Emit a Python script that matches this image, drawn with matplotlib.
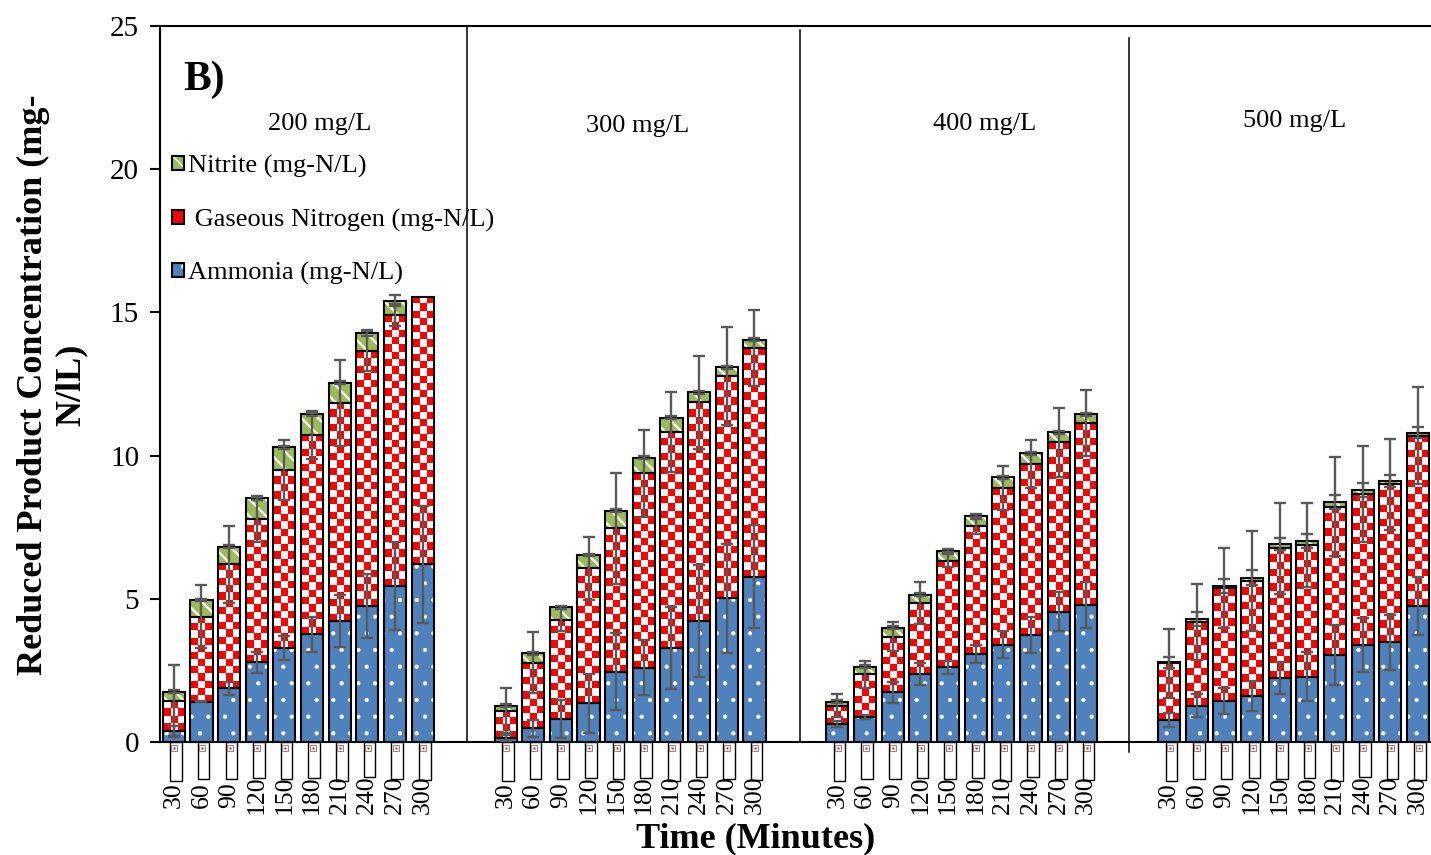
import numpy as np
import matplotlib.pyplot as plt
from matplotlib.patches import Patch
from matplotlib.colors import ListedColormap

plt.rcParams['font.family'] = ['Liberation Serif', 'DejaVu Serif']

# concentrations (mg/L) and sampling times (min)
groups = ['200 mg/L', '300 mg/L', '400 mg/L', '500 mg/L']
times = [30, 60, 90, 120, 150, 180, 210, 240, 270, 300]

# stacked components, one row per initial concentration
ammonia = [
    [0.38, 1.41, 1.87, 2.78, 3.27, 3.76, 4.22, 4.75, 5.45, 6.20],
    [0.13, 0.48, 0.80, 1.35, 2.46, 2.60, 3.27, 4.22, 5.02, 5.77],
    [0.62, 0.88, 1.73, 2.37, 2.61, 3.07, 3.39, 3.74, 4.55, 4.78],
    [0.77, 1.27, 1.44, 1.61, 2.22, 2.28, 3.04, 3.39, 3.48, 4.75],
]
gaseous = [
    [1.05, 2.97, 4.33, 5.01, 6.23, 6.96, 7.63, 8.90, 9.46, 9.33],
    [0.96, 2.29, 3.46, 4.71, 5.00, 6.78, 7.56, 7.64, 7.76, 7.98],
    [0.64, 1.49, 1.95, 2.47, 3.72, 4.47, 5.47, 5.97, 5.91, 6.35],
    [1.98, 2.93, 3.93, 4.02, 4.54, 4.60, 5.18, 5.27, 5.52, 5.95],
]
nitrite = [
    [0.33, 0.58, 0.62, 0.72, 0.79, 0.73, 0.70, 0.62, 0.50, 0.00],
    [0.17, 0.33, 0.44, 0.47, 0.61, 0.55, 0.49, 0.35, 0.30, 0.29],
    [0.15, 0.26, 0.31, 0.31, 0.35, 0.36, 0.38, 0.37, 0.35, 0.32],
    [0.03, 0.09, 0.08, 0.11, 0.15, 0.14, 0.15, 0.14, 0.12, 0.10],
]
ammonia_err = [
    [0.17, 0.03, 0.23, 0.36, 0.42, 0.61, 0.91, 1.12, 1.55, 2.05],
    [0.10, 0.29, 0.66, 1.02, 1.34, 0.96, 1.43, 1.96, 1.90, 1.80],
    [0.10, 0.08, 0.36, 0.38, 0.22, 0.30, 0.47, 0.63, 0.67, 0.81],
    [0.24, 0.40, 0.45, 0.52, 0.56, 0.86, 1.04, 0.95, 0.96, 1.02],
]
gaseous_err = [
    [1.26, 1.11, 1.35, 0.81, 1.05, 0.83, 1.50, 0.70, 0.40, 0.00],
    [0.78, 1.07, 0.40, 1.10, 1.93, 1.52, 1.40, 1.63, 1.72, 1.32],
    [0.40, 0.47, 0.51, 0.73, 0.23, 0.26, 0.77, 0.83, 1.21, 1.15],
    [1.20, 1.33, 1.40, 1.74, 1.59, 1.48, 1.73, 1.69, 1.59, 1.70],
]
nitrite_err = [
    [0.05, 0.05, 0.05, 0.05, 0.05, 0.05, 0.05, 0.10, 0.20, 0.00],
    [0.05, 0.05, 0.05, 0.05, 0.05, 0.05, 0.05, 0.05, 0.05, 0.05],
    [0.05, 0.05, 0.05, 0.05, 0.05, 0.05, 0.05, 0.05, 0.05, 0.05],
    [0.19, 0.24, 0.24, 0.26, 0.22, 0.24, 0.24, 0.24, 0.22, 0.19],
]
# the little empty boxes hanging under the axis
under_box = [1.35, 1.30, 1.30, 1.25, 1.28, 1.25, 1.35, 1.22, 1.30, 1.32]

blue = '#4F81BD'
green = '#9BBB59'
err_col = '#595959'
W = 0.8
px_per_unit = (742 - 26) / 25.0
checker = ListedColormap(['red', 'white'])

fig = plt.figure(figsize=(14.31, 8.55), dpi=100)
ax = fig.add_axes([160 / 1431, 1 - 742 / 855, 1 - 160 / 1431, (742 - 26) / 855])

ebar = dict(fmt='none', ecolor=err_col, elinewidth=1.7, capsize=4.5, capthick=1.7, zorder=5)

for g in range(4):
    x = np.arange(10) + 12 * g
    amm = np.array(ammonia[g])
    gas = np.array(gaseous[g])
    nit = np.array(nitrite[g])

    # ammonia: blue with small white dots
    ax.bar(x, amm, W, color=blue, lw=0, zorder=2)
    dots = ax.bar(x, amm, W, facecolor='none', edgecolor='white', hatch='.', lw=0, zorder=2.1)
    for p in dots:
        if hasattr(p, 'set_hatch_linewidth'):
            p.set_hatch_linewidth(0.6)

    # gaseous nitrogen: red / white checkerboard
    for xi, b, h in zip(x, amm, gas):
        nrow = max(1, int(round(h * px_per_unit / 7.3)))
        pat = np.indices((nrow, 3)).sum(axis=0) % 2
        ax.imshow(pat, cmap=checker, extent=(xi - W / 2, xi + W / 2, b, b + h),
                  aspect='auto', interpolation='nearest', origin='lower', zorder=2)

    # nitrite: green diagonal stripes with white gaps
    stripes = ax.bar(x, nit, W, bottom=amm + gas, color=green, edgecolor='white',
                     hatch='\\\\', lw=0, zorder=2)
    for p in stripes:
        if hasattr(p, 'set_hatch_linewidth'):
            p.set_hatch_linewidth(1.6)

    # black outlines of every segment
    ax.bar(x, amm, W, facecolor='none', edgecolor='black', lw=1.5, zorder=3)
    ax.bar(x, gas, W, bottom=amm, facecolor='none', edgecolor='black', lw=1.5, zorder=3)
    keep = nit > 0
    ax.bar(x[keep], nit[keep], W, bottom=(amm + gas)[keep], facecolor='none',
           edgecolor='black', lw=1.5, zorder=3)

    # error bars at each segment top
    for top, err in [(amm, ammonia_err[g]), (amm + gas, gaseous_err[g]),
                     (amm + gas + nit, nitrite_err[g])]:
        err = np.array(err)
        m = err > 0
        ax.errorbar(x[m], top[m], yerr=err[m], **ebar)

    # boxes below the axis
    ax.bar(x + 0.08, -np.array(under_box), 0.42, facecolor='white', edgecolor='black',
           lw=1.0, zorder=2, clip_on=False)
    ax.plot(x + 0.02, np.full(10, -0.2), 's', ms=5, mfc='white', mec='#8c8c8c', mew=0.8,
            clip_on=False, zorder=4)
    ax.plot(x + 0.02, np.full(10, -0.2), 's', ms=1.6, mfc='red', mec='none',
            clip_on=False, zorder=4)

    for xi, t in zip(x, times):
        ax.text(xi, -1.85, str(t), rotation=90, ha='center', va='center', fontsize=18.5,
                clip_on=False, zorder=6)

# separators between concentration blocks
ax.plot([10.6, 10.6], [0, 25], color='black', lw=1.1, clip_on=False)
ax.plot([22.65, 22.65], [0, 24.86], color='black', lw=1.1, clip_on=False)
ax.plot([34.55, 34.55], [-0.35, 24.58], color='black', lw=1.1, clip_on=False)

ax.set_xlim(-0.5, 45.47)
ax.set_ylim(0, 25)
ax.set_yticks(range(0, 26, 5))
ax.set_xticks([])
ax.tick_params(axis='y', direction='out', length=7, width=1.5, labelsize=21, pad=8)
ax.spines['right'].set_visible(False)
for s in ['left', 'top', 'bottom']:
    ax.spines[s].set_linewidth(1.5)

# group titles
label_px = [(320, 130), (638, 132), (985, 130), (1295, 127)]
for name, (px, py) in zip(groups, label_px):
    fig.text(px / 1431, 1 - py / 855, name, ha='center', va='baseline', fontsize=19)

fig.text(183 / 1431, 1 - 90 / 855, 'B)', ha='left', va='baseline', fontsize=30,
         fontweight='bold')

fig.text(52 / 1431, 1 - 385 / 855, 'Reduced Product Concentration (mg-\nN/lL)',
         rotation=90, ha='center', va='center', multialignment='center',
         fontsize=26, fontweight='bold', linespacing=1.2)
fig.text(756 / 1431, 1 - 847 / 855, 'Time (Minutes)', ha='center', va='baseline',
         fontsize=26, fontweight='bold')

# legend
h_nit = (Patch(facecolor=green, edgecolor='white', hatch='\\\\', lw=0),
         Patch(facecolor='none', edgecolor='black', lw=1.5))
h_gas = (Patch(facecolor='red', edgecolor='none'),
         Patch(facecolor='none', edgecolor='black', lw=1.5))
h_amm = (Patch(facecolor=blue, edgecolor='white', hatch='.', lw=0),
         Patch(facecolor='none', edgecolor='black', lw=1.5))
ax.legend([h_nit, h_gas, h_amm],
          ['Nitrite (mg-N/L)', ' Gaseous Nitrogen (mg-N/L)', 'Ammonia (mg-N/L)'],
          loc='upper left', bbox_to_anchor=(172 / 1431, 1 - 155 / 855),
          bbox_transform=fig.transFigure, frameon=False, fontsize=19,
          handlelength=0.45, handleheight=0.45, handletextpad=0.15,
          labelspacing=1.15, borderpad=0, borderaxespad=0)

fig.savefig('out.png', dpi=100)
